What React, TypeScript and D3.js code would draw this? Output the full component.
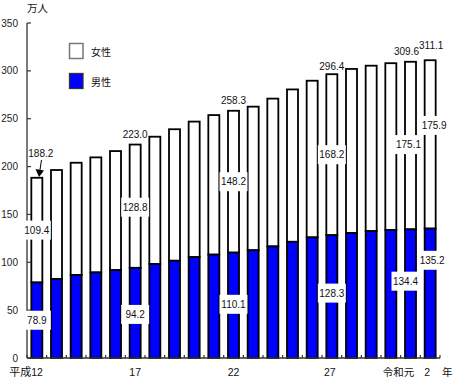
import React from "react";
import * as d3 from "d3";

// ---- data ----
const years = ["H12","H13","H14","H15","H16","H17","H18","H19","H20","H21","H22","H23","H24","H25","H26","H27","H28","H29","H30","R1","R2"];
const maleValues = [78.9, 82.6, 86.8, 89.4, 91.8, 94.2, 98.2, 101.6, 105.4, 108.0, 110.1, 112.6, 116.6, 121.4, 126.0, 128.3, 130.6, 132.6, 133.8, 134.4, 135.2];
const femaleValues = [109.4, 113.8, 117.2, 120.2, 124.4, 128.8, 133.0, 137.4, 141.6, 145.8, 148.2, 150.0, 154.4, 159.2, 163.7, 168.2, 171.4, 172.8, 174.2, 175.1, 175.9];
const labeledIdx = [0, 5, 10, 15, 19, 20];
const totalLabels = ["188.2", "223.0", "258.3", "296.4", "309.6", "311.1"];
const xTickIdx = [0, 5, 10, 15, 19, 20];
const xTickLabels = ["平成12", "17", "22", "27", "令和元", "2"];
const yTicks = [0, 50, 100, 150, 200, 250, 300, 350];
const legendLabels = ["女性", "男性"];

// ---- layout (styles / offsets) ----
const W = 455, H = 381;
const FONT = "'Liberation Sans', Arial, sans-serif";
const CJK = "'Noto Sans CJK JP', sans-serif";
const totalOffset: Record<number, [number, number]> = { 0: [4, -21], 5: [0, -6.5], 10: [0, -6.5], 15: [0, -4.5], 19: [-4, -6.5], 20: [1, -11] };
const femaleOffset: Record<number, [number, number]> = { 0: [0, 0], 5: [0, 1], 10: [0, 0], 15: [0, 0], 19: [-2, -1], 20: [4, -19] };
const maleOffset: Record<number, [number, number]> = { 0: [0, 0], 5: [0, 1.5], 10: [0, -1], 15: [0, -3.5], 19: [-5, -12.5], 20: [2, -33] };
const xLabelDx = [ -7, 0, 0, -2, -12, -3 ];

export default function App() {
  const y = d3.scaleLinear().domain([0, 350]).range([358, 23]);
  const x = d3.scaleBand<number>().domain(d3.range(years.length)).range([27, 440]).paddingInner(0.44).paddingOuter(0.22);
  const bw = x.bandwidth();
  const step = x.step();
  const cx = (i: number) => (x(i) as number) + bw / 2;

  const box = (key: string, tx: number, ty: number, text: string, bg: boolean) => (
    <g key={key}>
      {bg && <rect x={tx - 14} y={ty - 9.5} width={28} height={19} fill="#fff" />}
      <text x={tx} y={ty + 3.6} textAnchor="middle" fontFamily={FONT} fontSize={10} fill="#111">{text}</text>
    </g>
  );

  return (
    <svg width={W} height={H} style={{ position: "absolute", left: 0, top: 0, background: "#fff" }}>
      {/* bars */}
      {years.map((_, i) => {
        const m = maleValues[i], f = femaleValues[i];
        return (
          <g key={i}>
            <rect x={x(i)} y={y(m + f)} width={bw} height={y(m) - y(m + f)} fill="#fff" stroke="#000" strokeWidth={1.8} />
            <rect x={x(i)} y={y(m)} width={bw} height={y(0) - y(m)} fill="#0000ff" stroke="#000" strokeWidth={1.8} />
          </g>
        );
      })}

      {/* axes */}
      <line x1={27} x2={27} y1={y(350)} y2={y(0)} stroke="#333" strokeWidth={1.3} />
      <line x1={27} x2={440} y1={y(0)} y2={y(0)} stroke="#333" strokeWidth={1.3} />
      {yTicks.map(t => (
        <g key={t}>
          <line x1={27} x2={31} y1={y(t)} y2={y(t)} stroke="#333" strokeWidth={1.2} />
          <text x={18} y={y(t) + 3.6} textAnchor="end" fontFamily={FONT} fontSize={10} fill="#222">{t}</text>
        </g>
      ))}
      {d3.range(years.length + 1).map(k => (
        <line key={k} x1={27 + k * step} x2={27 + k * step} y1={y(0)} y2={y(0) - 3} stroke="#333" strokeWidth={1.2} />
      ))}
      {xTickIdx.map((i, k) => {
        const lab = xTickLabels[k];
        const isCjkHead = lab.startsWith("平成");
        if (isCjkHead) {
          return (
            <text key={k} x={cx(i) + 6} y={376} textAnchor="end" fontFamily={CJK} fontSize={11} fill="#111">
              <tspan fontFamily={CJK}>平成</tspan><tspan fontFamily={FONT} fontSize={10.5}>12</tspan>
            </text>
          );
        }
        const cjk = /[^\d]/.test(lab);
        return (
          <text key={k} x={cx(i) + xLabelDx[k]} y={376} textAnchor="middle" fontFamily={cjk ? CJK : FONT} fontSize={cjk ? 10.5 : 10.5} fill="#111">{lab}</text>
        );
      })}
      <text x={442} y={376} fontFamily={CJK} fontSize={10.5} fill="#111">年</text>
      <text x={27} y={12} fontFamily={CJK} fontSize={10.5} fill="#111">万人</text>

      {/* legend */}
      <rect x={69.5} y={43.5} width={13.5} height={15} fill="#fff" stroke="#777" strokeWidth={1.5} />
      <text x={91} y={56} fontFamily={CJK} fontSize={10} fill="#111">{legendLabels[0]}</text>
      <rect x={69.5} y={73.5} width={13.5} height={15} fill="#0000ff" stroke="#333" strokeWidth={1.3} />
      <text x={91} y={86} fontFamily={CJK} fontSize={10} fill="#111">{legendLabels[1]}</text>

      {/* value labels */}
      {labeledIdx.map((i, k) => {
        const m = maleValues[i], f = femaleValues[i];
        const mo = maleOffset[i], fo = femaleOffset[i], to = totalOffset[i];
        return (
          <g key={"l" + i}>
            {box("f" + i, cx(i) + fo[0], y(m + f / 2) + fo[1], f.toFixed(1), true)}
            {box("m" + i, cx(i) + mo[0], y(m / 2) + mo[1], m.toFixed(1), true)}
            <text x={cx(i) + to[0]} y={y(m + f) + to[1]} textAnchor="middle" fontFamily={FONT} fontSize={10} fill="#111">{totalLabels[k]}</text>
          </g>
        );
      })}

      {/* arrow for first total */}
      <line x1={41.5} y1={160} x2={39.8} y2={171} stroke="#000" strokeWidth={1} />
      <path d={`M35.5,169 L44,170.5 L39,177 Z`} fill="#000" />
    </svg>
  );
}
